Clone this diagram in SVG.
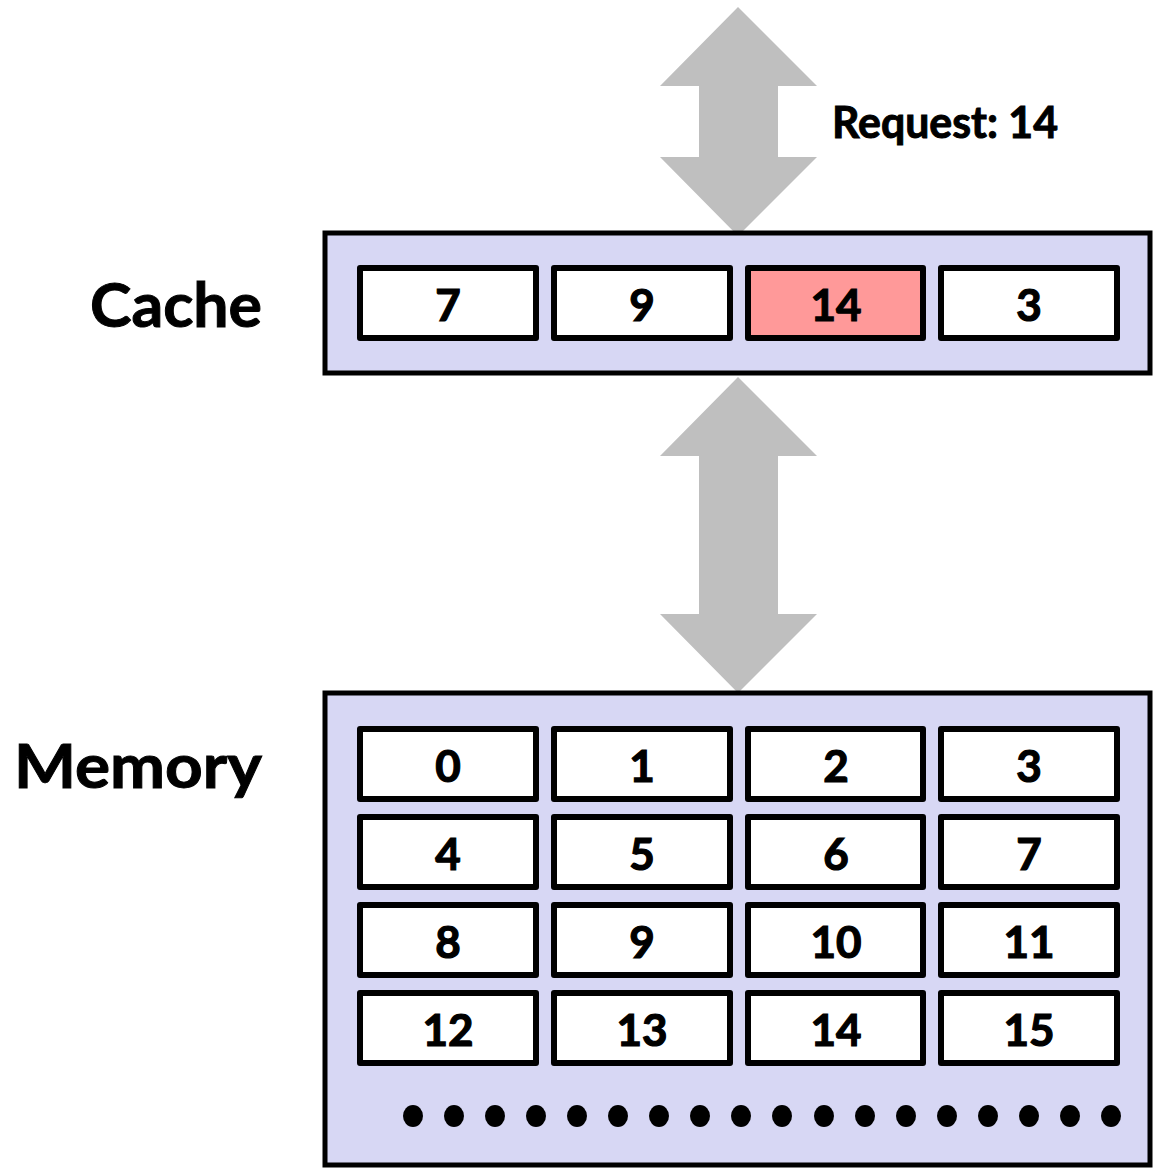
<svg xmlns="http://www.w3.org/2000/svg" width="1153" height="1169" viewBox="0 0 1153 1169">
<style>
.lbl{font-family:Lato,"Open Sans","Liberation Sans",sans-serif;font-weight:bold;fill:#000;stroke:#000;stroke-width:1}
.num{font-family:Lato,"Open Sans","Liberation Sans",sans-serif;font-weight:bold;font-size:44px;text-anchor:middle;fill:#000;stroke:#000;stroke-width:1.2}
.box{fill:#D7D7F4;stroke:#000;stroke-width:5}
.cell{fill:#fff;stroke:#000;stroke-width:6;stroke-linejoin:round}
.hit{fill:#FF9999}
.arrow{fill:#BFBFBF}
</style>
<g id="connectors">
<polygon class="arrow" points="738,7 817,86 778,86 778,157 817,157 738,236 660,157 699,157 699,86 660,86"/>
<polygon class="arrow" points="738,377 817,456 778,456 778,614 817,614 738,693 660,614 699,614 699,456 660,456"/>
</g>
<text class="lbl" x="832" y="138" font-size="44" textLength="226" lengthAdjust="spacingAndGlyphs">Request: 14</text>
<g id="cache">
<text class="lbl" x="90" y="327" font-size="62" textLength="172" lengthAdjust="spacingAndGlyphs">Cache</text>
<rect class="box" x="325" y="233" width="825" height="140"/>
<g id="c0"><rect class="cell" x="360" y="268" width="176" height="70"/><text class="num" x="448" y="321">7</text></g>
<g id="c1"><rect class="cell" x="554" y="268" width="176" height="70"/><text class="num" x="642" y="321">9</text></g>
<g id="c2"><rect class="cell hit" x="748" y="268" width="175" height="70"/><text class="num" x="836" y="321">14</text></g>
<g id="c3"><rect class="cell" x="941" y="268" width="176" height="70"/><text class="num" x="1029" y="321">3</text></g>
</g>
<g id="memory">
<text class="lbl" x="14" y="788" font-size="62" textLength="248" lengthAdjust="spacingAndGlyphs">Memory</text>
<rect class="box" x="325" y="693" width="825" height="472"/>
<g id="m0"><rect class="cell" x="360" y="729" width="176" height="70"/><text class="num" x="448" y="782">0</text></g>
<g id="m1"><rect class="cell" x="554" y="729" width="176" height="70"/><text class="num" x="642" y="782">1</text></g>
<g id="m2"><rect class="cell" x="748" y="729" width="175" height="70"/><text class="num" x="836" y="782">2</text></g>
<g id="m3"><rect class="cell" x="941" y="729" width="176" height="70"/><text class="num" x="1029" y="782">3</text></g>
<g id="m4"><rect class="cell" x="360" y="817" width="176" height="70"/><text class="num" x="448" y="870">4</text></g>
<g id="m5"><rect class="cell" x="554" y="817" width="176" height="70"/><text class="num" x="642" y="870">5</text></g>
<g id="m6"><rect class="cell" x="748" y="817" width="175" height="70"/><text class="num" x="836" y="870">6</text></g>
<g id="m7"><rect class="cell" x="941" y="817" width="176" height="70"/><text class="num" x="1029" y="870">7</text></g>
<g id="m8"><rect class="cell" x="360" y="905" width="176" height="70"/><text class="num" x="448" y="958">8</text></g>
<g id="m9"><rect class="cell" x="554" y="905" width="176" height="70"/><text class="num" x="642" y="958">9</text></g>
<g id="m10"><rect class="cell" x="748" y="905" width="175" height="70"/><text class="num" x="836" y="958">10</text></g>
<g id="m11"><rect class="cell" x="941" y="905" width="176" height="70"/><text class="num" x="1029" y="958">11</text></g>
<g id="m12"><rect class="cell" x="360" y="993" width="176" height="70"/><text class="num" x="448" y="1046">12</text></g>
<g id="m13"><rect class="cell" x="554" y="993" width="176" height="70"/><text class="num" x="642" y="1046">13</text></g>
<g id="m14"><rect class="cell" x="748" y="993" width="175" height="70"/><text class="num" x="836" y="1046">14</text></g>
<g id="m15"><rect class="cell" x="941" y="993" width="176" height="70"/><text class="num" x="1029" y="1046">15</text></g>
<g id="dots" fill="#000">
<ellipse cx="413" cy="1116" rx="10" ry="11"/>
<ellipse cx="454" cy="1116" rx="10" ry="11"/>
<ellipse cx="495" cy="1116" rx="10" ry="11"/>
<ellipse cx="536" cy="1116" rx="10" ry="11"/>
<ellipse cx="577" cy="1116" rx="10" ry="11"/>
<ellipse cx="618" cy="1116" rx="10" ry="11"/>
<ellipse cx="659" cy="1116" rx="10" ry="11"/>
<ellipse cx="700" cy="1116" rx="10" ry="11"/>
<ellipse cx="741" cy="1116" rx="10" ry="11"/>
<ellipse cx="782" cy="1116" rx="10" ry="11"/>
<ellipse cx="824" cy="1116" rx="10" ry="11"/>
<ellipse cx="865" cy="1116" rx="10" ry="11"/>
<ellipse cx="906" cy="1116" rx="10" ry="11"/>
<ellipse cx="947" cy="1116" rx="10" ry="11"/>
<ellipse cx="988" cy="1116" rx="10" ry="11"/>
<ellipse cx="1029" cy="1116" rx="10" ry="11"/>
<ellipse cx="1070" cy="1116" rx="10" ry="11"/>
<ellipse cx="1111" cy="1116" rx="10" ry="11"/>
</g>
</g>
</svg>
